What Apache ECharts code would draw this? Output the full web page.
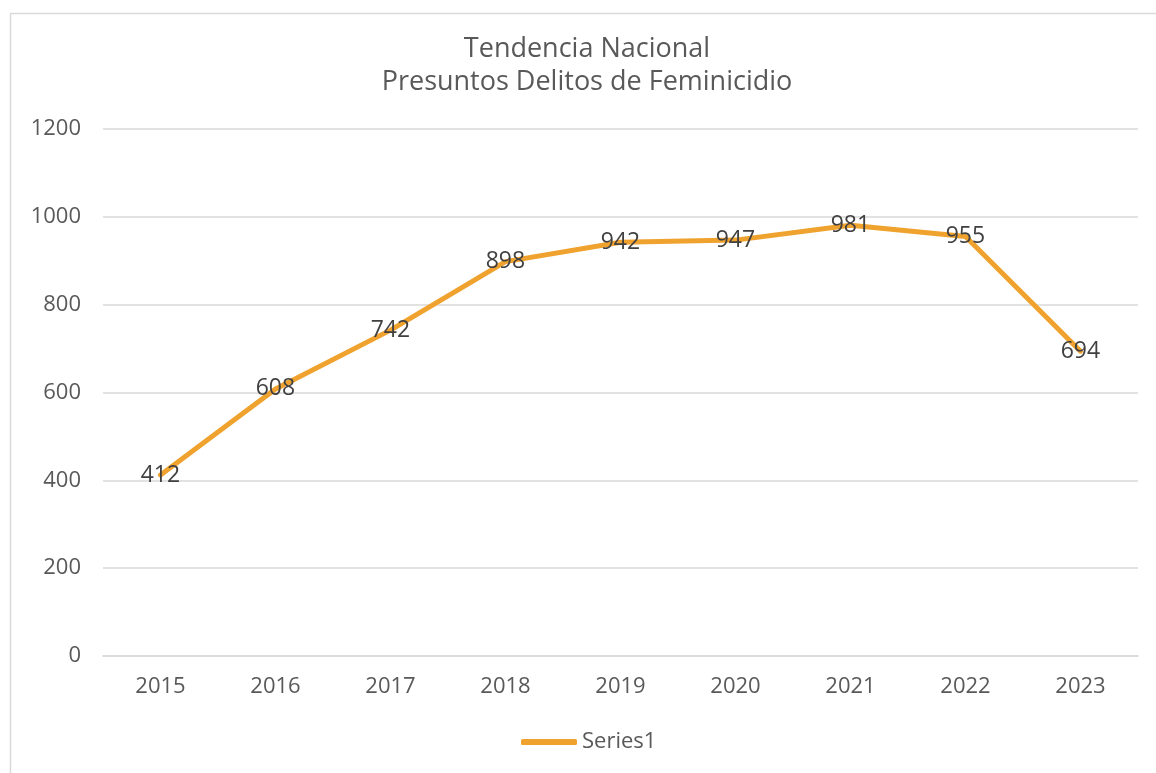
<!DOCTYPE html>
<html>
<head>
<meta charset="utf-8">
<style>
  html, body { margin: 0; padding: 0; background: #ffffff; }
  #chart { width: 1156px; height: 773px; }
</style>
<script src="https://cdn.jsdelivr.net/npm/echarts@6/dist/echarts.min.js"></script>
</head>
<body>
<div id="chart"></div>
<script>
// Annual national totals of alleged feminicide crimes
const years = ['2015', '2016', '2017', '2018', '2019', '2020', '2021', '2022', '2023'];
const series1 = [412, 608, 742, 898, 942, 947, 981, 955, 694];
const yTicks = { min: 0, max: 1200, interval: 200 };

const FONT = '"Open Sans", "Noto Sans", sans-serif';
const LINE_COLOR = '#F0A22E';
const TEXT_COLOR = '#595959';

const chart = echarts.init(document.getElementById('chart'), null, { renderer: 'canvas' });

chart.setOption({
  backgroundColor: '#ffffff',
  animation: false,
  graphic: [{
    type: 'rect',
    left: 8,
    top: 11,
    shape: { width: 1170, height: 790 },
    style: { fill: 'none', stroke: '#d9d9d9', lineWidth: 1.5 },
    silent: true,
    z: -1
  }],
  title: {
    text: 'Tendencia Nacional\nPresuntos Delitos de Feminicidio',
    left: 582,
    textAlign: 'center',
    top: 28,
    textStyle: {
      fontFamily: FONT,
      fontSize: 27,
      fontWeight: 'normal',
      color: TEXT_COLOR,
      lineHeight: 33
    }
  },
  legend: {
    bottom: 20,
    left: 521,
    icon: 'roundRect',
    itemWidth: 56,
    itemHeight: 6,
    itemGap: 10,
    padding: 0,
    textStyle: { fontFamily: FONT, fontSize: 22, color: TEXT_COLOR },
    data: ['Series1']
  },
  grid: { left: 103, right: 18, top: 129, bottom: 117, containLabel: false },
  xAxis: {
    type: 'category',
    data: years,
    boundaryGap: true,
    axisLine: { show: true, lineStyle: { color: '#d9d9d9', width: 1.5 } },
    axisTick: { show: false },
    axisLabel: { fontFamily: FONT, fontSize: 22, color: TEXT_COLOR, margin: 20 }
  },
  yAxis: {
    type: 'value',
    min: yTicks.min,
    max: yTicks.max,
    interval: yTicks.interval,
    axisLine: { show: false },
    axisTick: { show: false },
    splitLine: { lineStyle: { color: '#d9d9d9', width: 1.5 } },
    axisLabel: {
      fontFamily: FONT, fontSize: 22, color: TEXT_COLOR, margin: 22,
      formatter: (v) => String(v)
    }
  },
  series: [{
    name: 'Series1',
    type: 'line',
    data: series1,
    color: LINE_COLOR,
    symbol: 'circle',
    symbolSize: 0.1,
    showSymbol: true,
    lineStyle: { color: LINE_COLOR, width: 5, cap: 'round', join: 'round' },
    itemStyle: { color: LINE_COLOR },
    label: {
      show: true,
      position: [0, 0],
      align: 'center',
      verticalAlign: 'middle',
      fontFamily: FONT,
      fontSize: 23,
      color: '#404040'
    }
  }]
});
</script>
</body>
</html>
